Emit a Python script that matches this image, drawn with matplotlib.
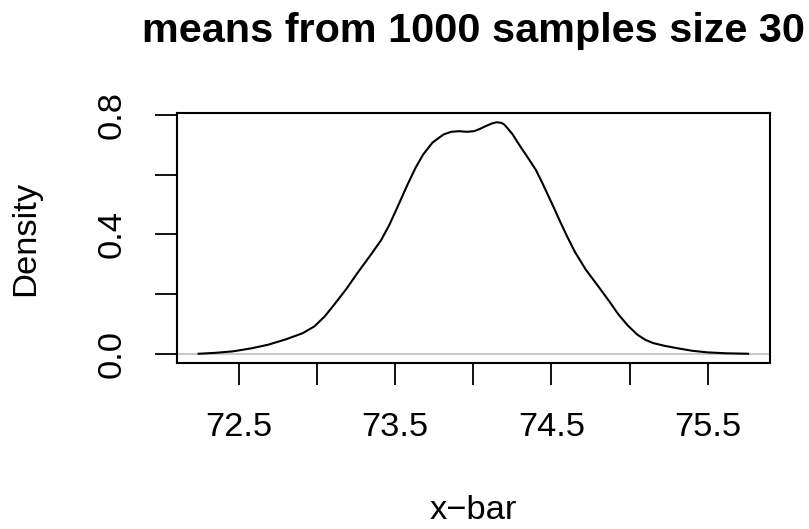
import matplotlib
matplotlib.use("Agg")
import matplotlib.pyplot as plt

plt.rcParams['font.family'] = ['Liberation Sans', 'DejaVu Sans']

# density estimate of the sample means
xbar = [72.244, 72.35, 72.463, 72.58, 72.687, 72.80, 72.91, 72.985, 73.05,
        73.11, 73.19, 73.26, 73.34, 73.41, 73.46, 73.51, 73.55, 73.58, 73.63,
        73.68, 73.74, 73.81, 73.86, 73.91, 73.96, 74.005, 74.04, 74.08, 74.12,
        74.15, 74.18, 74.20, 74.25, 74.30, 74.35, 74.40, 74.44, 74.48, 74.52,
        74.55, 74.60, 74.65, 74.72, 74.80, 74.87, 74.93, 74.99, 75.05, 75.10,
        75.15, 75.22, 75.30, 75.40, 75.50, 75.62, 75.758]
dens = [0.0, 0.003, 0.008, 0.018, 0.030, 0.048, 0.069, 0.092, 0.125,
        0.164, 0.218, 0.271, 0.328, 0.380, 0.428, 0.485, 0.532, 0.567, 0.622,
        0.668, 0.708, 0.735, 0.744, 0.746, 0.744, 0.746, 0.753, 0.763, 0.772,
        0.776, 0.774, 0.768, 0.737, 0.696, 0.657, 0.617, 0.575, 0.530, 0.485,
        0.450, 0.394, 0.342, 0.282, 0.226, 0.176, 0.131, 0.094, 0.064, 0.047,
        0.036, 0.027, 0.019, 0.010, 0.0045, 0.0015, 0.0]

xticks = [72.5, 73.0, 73.5, 74.0, 74.5, 75.0, 75.5]
xticklabels = ['72.5', '', '73.5', '', '74.5', '', '75.5']
yticks = [0.0, 0.2, 0.4, 0.6, 0.8]
yticklabels = ['0.0', '', '0.4', '', '0.8']

fig = plt.figure(figsize=(8.09, 5.29), dpi=100)
ax = fig.add_axes([0.2184, 0.3138, 0.7334, 0.4726])

ax.axhline(0, color='#bebebe', lw=1.2, zorder=1)
ax.plot(xbar, dens, color='black', lw=1.5, zorder=2)

span = xbar[-1] - xbar[0]
ax.set_xlim(xbar[0] - 0.04 * span, xbar[-1] + 0.04 * span)
top = max(dens)
ax.set_ylim(-0.04 * top, top * 1.04)

ax.set_xticks(xticks)
ax.set_xticklabels(xticklabels)
ax.set_yticks(yticks)
ax.set_yticklabels(yticklabels, rotation=90, va='center')
ax.tick_params(axis='both', length=16, width=1.3, labelsize=24.8)
ax.tick_params(axis='x', pad=19)
ax.tick_params(axis='y', pad=19)
for s in ax.spines.values():
    s.set_linewidth(1.5)

ax.set_title('means from 1000 samples size 30', fontsize=29.8,
             fontweight='bold', pad=51)
ax.set_xlabel('x\u2212bar', fontsize=24.8, labelpad=38)
ax.set_ylabel('Density', fontsize=24.8, labelpad=40)

fig.savefig('out.png', dpi=100)
